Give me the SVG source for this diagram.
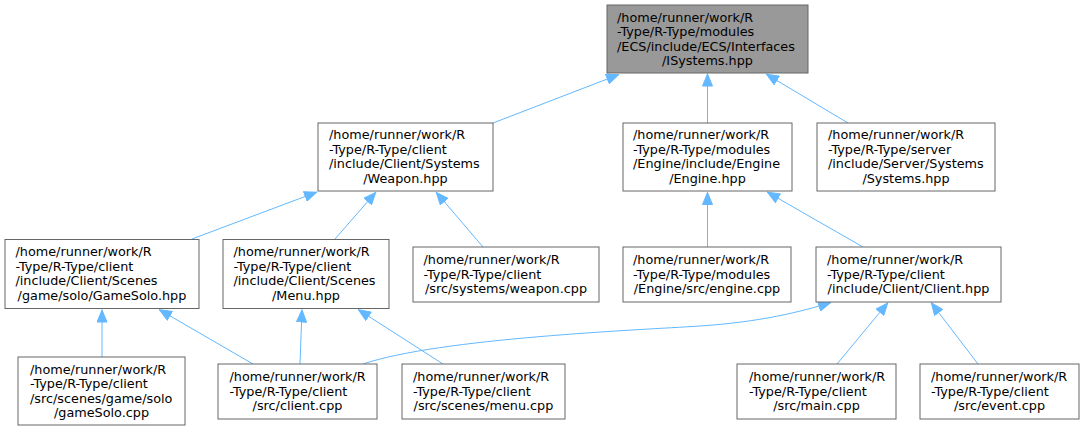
<svg xmlns="http://www.w3.org/2000/svg" width="1084" height="432" viewBox="0 0 1084 432">
<style>
  .box { fill: #ffffff; stroke: #666666; stroke-width: 1; }
  .root { fill: #999999; stroke: #666666; stroke-width: 1; }
  text { font-family: "DejaVu Sans", "Liberation Sans", sans-serif; font-size: 12.8px; fill: #000000; }
  .c { text-anchor: middle; }
  .edge { fill: none; stroke: #63b8ff; stroke-width: 1; marker-end: url(#arr); }
</style>
<defs>
  <marker id="arr" viewBox="0 0 13 11" refX="13" refY="5.5" markerWidth="13" markerHeight="11" markerUnits="userSpaceOnUse" orient="auto">
    <path d="M0.5,0.5 L12.5,5.5 L0.5,10.5 z" fill="#63b8ff" stroke="#63b8ff" stroke-width="1"/>
  </marker>
</defs>
<rect width="1084" height="432" fill="#ffffff"/>

<g id="edges">
  <path class="edge" d="M493,123 L619,74.5"/>
  <path class="edge" d="M707.5,123 L707.5,73.5"/>
  <path class="edge" d="M848,123 L766,74"/>
  <path class="edge" d="M192,239 L317,192"/>
  <path class="edge" d="M335,239 L376,192"/>
  <path class="edge" d="M483,247 L436,192"/>
  <path class="edge" d="M707.5,247 L707.5,192"/>
  <path class="edge" d="M863,247 L767,192"/>
  <path class="edge" d="M102,357 L102,309.5"/>
  <path class="edge" d="M253,364 L159,309.5"/>
  <path class="edge" d="M300,364 L302,309.5"/>
  <path class="edge" d="M443,364 L358,309.5"/>
  <path class="edge" d="M363,364 C440,338 640,330 700,326 C760,322 800,312 831,302.5"/>
  <path class="edge" d="M837,364 L888,302.5"/>
  <path class="edge" d="M978,364 L931,302.5"/>
</g>

<g id="n_isystems">
  <rect class="root" x="607" y="5" width="201" height="68"/>
  <text x="617" y="21.5">/home/runner/work/R</text>
  <text x="617" y="36">-Type/R-Type/modules</text>
  <text x="617" y="50.5">/ECS/include/ECS/Interfaces</text>
  <text class="c" x="707.5" y="65">/ISystems.hpp</text>
</g>

<g id="n_weapon_hpp">
  <rect class="box" x="318" y="123" width="175" height="68"/>
  <text x="329" y="139">/home/runner/work/R</text>
  <text x="329" y="153.5">-Type/R-Type/client</text>
  <text x="329" y="168">/include/Client/Systems</text>
  <text class="c" x="405.5" y="182.5">/Weapon.hpp</text>
</g>

<g id="n_engine_hpp">
  <rect class="box" x="623" y="123" width="169" height="68"/>
  <text x="633" y="139">/home/runner/work/R</text>
  <text x="633" y="153.5">-Type/R-Type/modules</text>
  <text x="633" y="168">/Engine/include/Engine</text>
  <text class="c" x="707.5" y="182.5">/Engine.hpp</text>
</g>

<g id="n_systems_hpp">
  <rect class="box" x="817" y="123" width="178" height="68"/>
  <text x="828" y="139">/home/runner/work/R</text>
  <text x="828" y="153.5">-Type/R-Type/server</text>
  <text x="828" y="168">/include/Server/Systems</text>
  <text class="c" x="906" y="182.5">/Systems.hpp</text>
</g>

<g id="n_gamesolo_hpp">
  <rect class="box" x="5" y="239.5" width="194" height="69"/>
  <text x="15.5" y="256">/home/runner/work/R</text>
  <text x="15.5" y="270.5">-Type/R-Type/client</text>
  <text x="15.5" y="285">/include/Client/Scenes</text>
  <text class="c" x="102" y="299.5">/game/solo/GameSolo.hpp</text>
</g>

<g id="n_menu_hpp">
  <rect class="box" x="223" y="239.5" width="166" height="69"/>
  <text x="233.5" y="256">/home/runner/work/R</text>
  <text x="233.5" y="270.5">-Type/R-Type/client</text>
  <text x="233.5" y="285">/include/Client/Scenes</text>
  <text class="c" x="306" y="299.5">/Menu.hpp</text>
</g>

<g id="n_weapon_cpp">
  <rect class="box" x="413" y="247" width="186" height="55"/>
  <text x="423.5" y="264">/home/runner/work/R</text>
  <text x="423.5" y="278.5">-Type/R-Type/client</text>
  <text class="c" x="506" y="293">/src/systems/weapon.cpp</text>
</g>

<g id="n_engine_cpp">
  <rect class="box" x="623" y="247" width="168" height="55"/>
  <text x="633" y="264">/home/runner/work/R</text>
  <text x="633" y="278.5">-Type/R-Type/modules</text>
  <text class="c" x="707" y="293">/Engine/src/engine.cpp</text>
</g>

<g id="n_client_hpp">
  <rect class="box" x="816" y="247" width="185" height="55"/>
  <text x="827" y="264">/home/runner/work/R</text>
  <text x="827" y="278.5">-Type/R-Type/client</text>
  <text class="c" x="908.5" y="293">/include/Client/Client.hpp</text>
</g>

<g id="n_gamesolo_cpp">
  <rect class="box" x="18" y="357" width="167" height="68"/>
  <text x="30" y="373.5">/home/runner/work/R</text>
  <text x="30" y="388">-Type/R-Type/client</text>
  <text x="30" y="402.5">/src/scenes/game/solo</text>
  <text class="c" x="101.5" y="417">/gameSolo.cpp</text>
</g>

<g id="n_client_cpp">
  <rect class="box" x="218" y="364" width="159" height="55"/>
  <text x="229.5" y="381">/home/runner/work/R</text>
  <text x="229.5" y="395.5">-Type/R-Type/client</text>
  <text class="c" x="297.5" y="410">/src/client.cpp</text>
</g>

<g id="n_menu_cpp">
  <rect class="box" x="402" y="364" width="163" height="55"/>
  <text x="413" y="381">/home/runner/work/R</text>
  <text x="413" y="395.5">-Type/R-Type/client</text>
  <text class="c" x="483.5" y="410">/src/scenes/menu.cpp</text>
</g>

<g id="n_main_cpp">
  <rect class="box" x="737" y="364" width="159" height="55"/>
  <text x="749" y="381">/home/runner/work/R</text>
  <text x="749" y="395.5">-Type/R-Type/client</text>
  <text class="c" x="816.5" y="410">/src/main.cpp</text>
</g>

<g id="n_event_cpp">
  <rect class="box" x="920" y="364" width="159" height="55"/>
  <text x="931" y="381">/home/runner/work/R</text>
  <text x="931" y="395.5">-Type/R-Type/client</text>
  <text class="c" x="999.5" y="410">/src/event.cpp</text>
</g>
</svg>
